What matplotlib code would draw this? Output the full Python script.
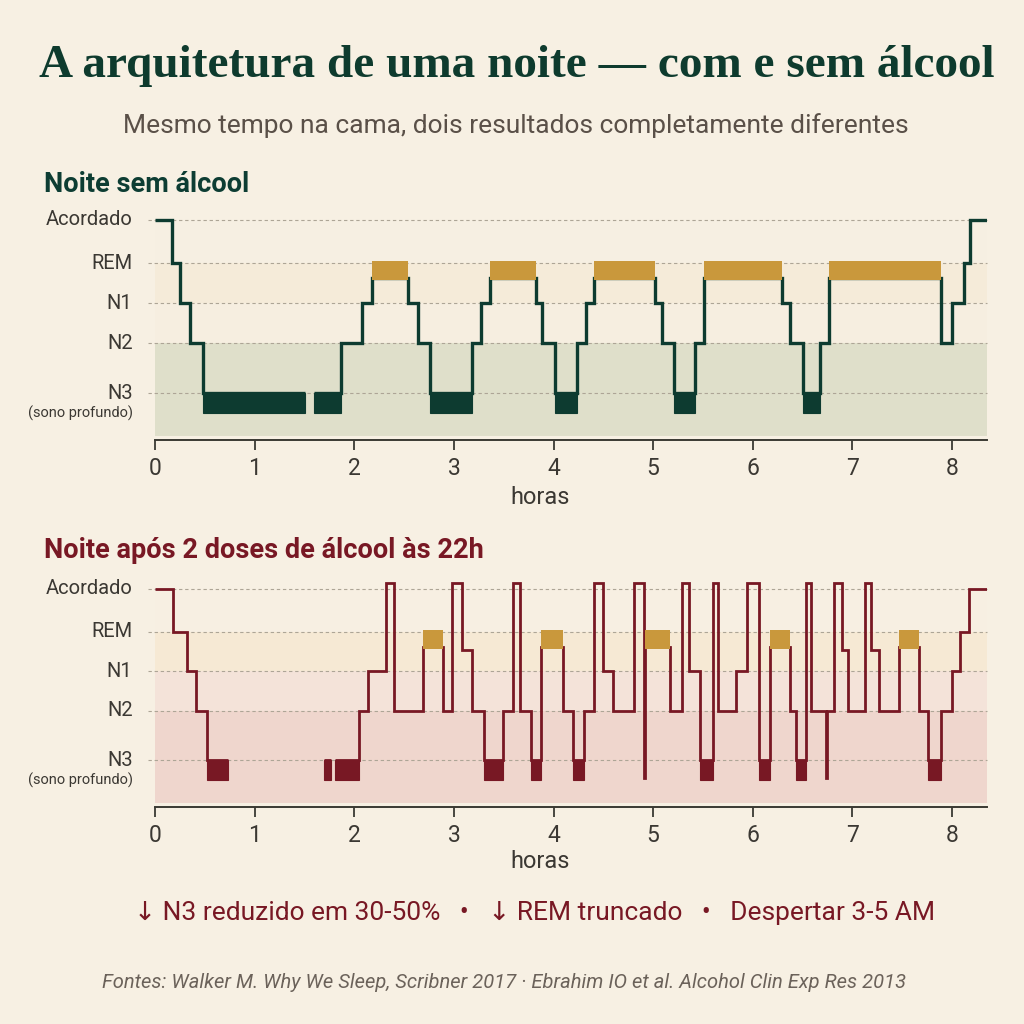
import numpy as np
import matplotlib
matplotlib.use("Agg")
import matplotlib.pyplot as plt
from matplotlib.patches import Rectangle
import matplotlib.transforms as mtransforms

# ---------------- data ----------------
stage_labels = ["Acordado", "REM", "N1", "N2", "N3"]
hour_ticks = [0, 1, 2, 3, 4, 5, 6, 7, 8]

# Night without alcohol: stage per segment and segment end (hours)
stages_sem = ["W", "Rg", "N1", "N2", "N3", "gap", "N3", "N2", "N1", "R", "N1", "N2",
              "N3", "N2", "N1", "R", "N1", "N2", "N3", "N2", "N1", "R", "N1", "N2",
              "N3", "N2", "R", "N1", "N2", "N3", "N2", "R", "N2", "N1", "Rg", "W"]
ends_sem = [0.17, 0.25, 0.35, 0.48, 1.51, 1.60, 1.87, 2.08, 2.18, 2.54, 2.64, 2.76,
            3.18, 3.27, 3.36, 3.82, 3.88, 4.01, 4.24, 4.33, 4.41, 5.02, 5.09, 5.21,
            5.42, 5.51, 6.29, 6.37, 6.50, 6.67, 6.76, 7.89, 8.00, 8.12, 8.18, 8.35]

# Night after 2 drinks
stages_alc = ["W", "Rg", "N1", "N2", "N3", "gap", "N3", "gap", "N3", "N2", "N1", "Wx",
              "N2", "R", "N2", "Wx", "R-", "N2", "N3", "N2", "Wx", "N2", "N3", "R",
              "N2", "N3", "N2", "Wx", "N1", "N2", "Wx", "N3-", "R", "N2", "Wx", "N1",
              "N3", "Wx", "N2", "N1", "Wx", "N3", "R", "N2", "N3", "Wx", "N2", "N3-",
              "N2", "Wx", "R-", "N2", "Wx", "R-", "N2", "R", "N2", "N3", "N2", "N1",
              "Rg", "W"]
ends_alc = [0.18, 0.32, 0.41, 0.52, 0.73, 1.70, 1.77, 1.81, 2.05, 2.14, 2.32, 2.40,
            2.69, 2.89, 2.98, 3.08, 3.18, 3.30, 3.49, 3.59, 3.66, 3.77, 3.87, 4.09,
            4.20, 4.31, 4.41, 4.50, 4.60, 4.81, 4.91, 4.92, 5.17, 5.29, 5.36, 5.47,
            5.60, 5.65, 5.83, 5.94, 6.06, 6.17, 6.37, 6.43, 6.53, 6.58, 6.73, 6.74,
            6.81, 6.89, 6.95, 7.13, 7.19, 7.27, 7.47, 7.67, 7.76, 7.89, 8.00, 8.08,
            8.17, 8.35]

# ---------------- style ----------------
BG = "#f7f0e3"
GREEN = "#0d3b30"
RED = "#781824"
GOLD = "#c9983c"
TXT = "#3b3833"
GRID = "#ada596"

LEVEL = {"W": 4.08, "Wx": 4.23, "Rg": 3.0, "R": 2.62, "R-": 2.55, "N1": 2.0,
         "N2": 1.0, "N3": -0.25, "N3-": -0.7}
GRID_Y = [4.08, 3.0, 2.0, 1.0, -0.25]
YMIN, YMAX = -1.425, 4.28

plt.rcParams["font.family"] = ["Roboto", "DejaVu Sans"]

fig = plt.figure(figsize=(10.24, 10.24), dpi=100, facecolor=BG)


def px_x(p):
    return p / 1024.0


def px_y(p):
    return 1 - p / 1024.0


def draw_panel(ax, stages, ends, color, bands, lw):
    ax.set_facecolor(BG)
    ax.set_xlim(0, 8.35)
    ax.set_ylim(YMIN, YMAX)
    for (y0, y1, c) in bands:
        ax.add_patch(Rectangle((0, y0), 8.35, y1 - y0, facecolor=c, edgecolor="none", zorder=0))
    tr = mtransforms.blended_transform_factory(ax.transAxes, ax.transData)
    for gy in GRID_Y:
        ax.plot([-0.009, 1.0], [gy, gy], transform=tr, color=GRID, lw=0.8,
                ls=(0, (3, 2.5)), clip_on=False, zorder=1)
    xs, ys = [], []
    start = 0.0
    for st, en in zip(stages, ends):
        if st == "gap":
            xs.append(np.nan)
            ys.append(np.nan)
        else:
            lv = LEVEL[st]
            xs += [start, en]
            ys += [lv, lv]
        start = en
    ax.plot(xs, ys, color=color, lw=lw, solid_joinstyle="miter", solid_capstyle="butt", zorder=3)
    start = 0.0
    for st, en in zip(stages, ends):
        if st == "N3":
            ax.add_patch(Rectangle((start, -0.75), en - start, 0.5, facecolor=color,
                                   edgecolor=color, lw=0.8, zorder=4))
        elif st == "R":
            ax.add_patch(Rectangle((start, 2.57), en - start, 0.48, facecolor=GOLD,
                                   edgecolor="none", zorder=4))
        start = en
    for s in ["top", "right", "left"]:
        ax.spines[s].set_visible(False)
    ax.spines["bottom"].set_color("#3a3a33")
    ax.spines["bottom"].set_linewidth(1.4)
    ax.set_xticks(hour_ticks)
    ax.set_xticklabels([str(h) for h in hour_ticks])
    ax.tick_params(axis="x", length=7, width=1.3, color="#3a3a33", labelsize=16.5,
                   labelcolor=TXT, pad=5)
    ax.set_yticks([])
    for lab, gy in zip(stage_labels, GRID_Y):
        ax.text(-0.027, gy, lab, transform=tr, ha="right", va="center",
                fontsize=14.5, color=TXT)
    ax.text(-0.027, -0.75, "(sono profundo)", transform=tr, ha="right", va="center",
            fontsize=10.5, color=TXT)


# top panel
ax1 = fig.add_axes([px_x(155), px_y(440), px_x(987 - 155), (440 - 212) / 1024.0])
bands_top = [(-1.33, 1.0, "#dfdfca"), (1.0, 2.0, "#f6eee0"), (2.0, 3.0, "#f5ebd9"),
             (3.0, 4.08, "#f6efe2")]
draw_panel(ax1, stages_sem, ends_sem, GREEN, bands_top, 2.4)

# bottom panel
ax2 = fig.add_axes([px_x(155), px_y(807), px_x(987 - 155), (807 - 581) / 1024.0])
bands_bot = [(-1.33, 1.0, "#efd6cd"), (1.0, 2.0, "#f4e3d9"), (2.0, 3.0, "#f6e9d4"),
             (3.0, 4.08, "#f7efe2")]
draw_panel(ax2, stages_alc, ends_alc, RED, bands_bot, 2.0)

# texts
fig.text(px_x(517), px_y(66), "A arquitetura de uma noite — com e sem álcool",
         ha="center", va="center", fontsize=34, fontweight="bold", color="#0e3b2e",
         family=["Liberation Serif", "DejaVu Serif"])
fig.text(0.504, px_y(126), "Mesmo tempo na cama, dois resultados completamente diferentes",
         ha="center", va="center", fontsize=19, color="#5a5048")
fig.text(px_x(44), px_y(185), "Noite sem álcool", ha="left", va="center",
         fontsize=19.5, fontweight="bold", color="#0d3d33")
fig.text(px_x(44), px_y(550), "Noite após 2 doses de álcool às 22h", ha="left", va="center",
         fontsize=19.5, fontweight="bold", color=RED)
fig.text(px_x(540), px_y(497), "horas", ha="center", va="center", fontsize=17, color=TXT)
fig.text(px_x(540), px_y(862), "horas", ha="center", va="center", fontsize=17, color=TXT)
fig.text(px_x(535), px_y(913),
         "↓ N3 reduzido em 30-50%   •   ↓ REM truncado   •   Despertar 3-5 AM",
         ha="center", va="center", fontsize=19, color=RED)
fig.text(px_x(504), px_y(982),
         "Fontes: Walker M. Why We Sleep, Scribner 2017 · Ebrahim IO et al. Alcohol Clin Exp Res 2013",
         ha="center", va="center", fontsize=14.5, style="italic", color="#6b625a")

fig.savefig("out.png", dpi=100, facecolor=BG)
